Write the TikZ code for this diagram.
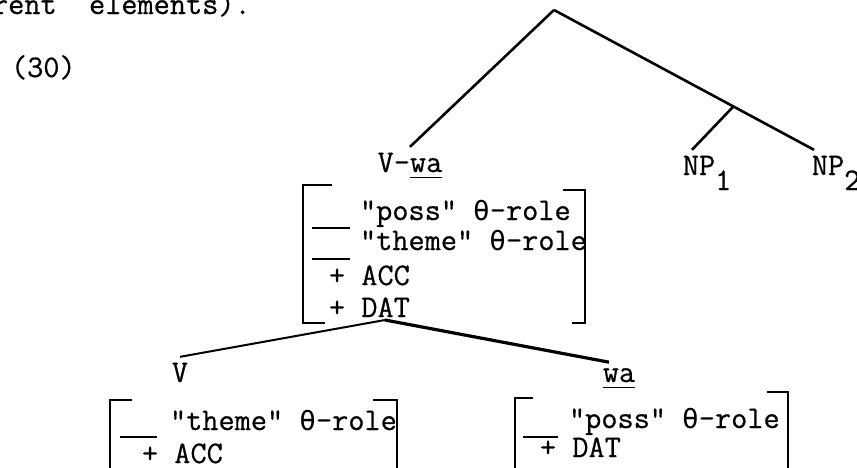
\documentclass[tikz,border=0pt]{standalone}
\usepackage{fontspec}
\setmonofont{Latin Modern Mono}[FakeBold=0.6]
\newfontfamily\grfont{DejaVu Sans Mono}[Scale=0.88]
\usetikzlibrary{calc}
\newcommand\ulword[1]{\setbox0\hbox{#1}\rlap{\rule[-3.2pt]{\wd0}{0.9pt}}\box0}
\newcommand\thr{{\grfont θ}}
\tikzstyle{every node}=[inner sep=0pt, outer sep=0pt, font=\fontsize{15.7}{19}\selectfont\ttfamily]
\tikzstyle{txt}=[anchor=base west]
\tikzstyle{cat}=[anchor=base, outer sep=3pt]
\tikzstyle{brk}=[draw, line width=1.4pt]
\tikzstyle{blank}=[draw, line width=1pt]

\begin{document}
\begin{tikzpicture}[x=0.5pt,y=-0.5pt]
    \useasboundingbox (0,0) rectangle (857,467);
    \node[txt] (prev) at (-8,14) {rent\ \ elements).};
    \node[txt] (ex) at (11,77) {(30)};
    % upper tree
    \coordinate (root) at (554,10);
    \node[cat] (vwa) at (410,172) {V-\ulword{wa}};
    \node[cat] (np1) at (699,175) {NP\rlap{\raisebox{-7.5pt}{1}}};
    \node[cat] (np2) at (828,175) {NP\rlap{\raisebox{-7.5pt}{2}}};
    \coordinate (np) at ($(root)!0.69!([xshift=-7pt]np2.north)$);
    \path[draw,line width=1.3pt]
    (root) edge (vwa.north)
    (root) edge ([xshift=-7pt]np2.north)
    (np) edge ([xshift=-3.5pt]np1.north)
    ;
    % features of V-wa
    \node[txt] (poss1) at (360,220) {"poss" \thr-role};
    \node[txt] (theme1) at (360,250) {"theme" \thr-role};
    \node[txt] (acc1) at (329,285) {+ ACC};
    \node[txt] (dat1) at (329,317) {+ DAT};
    \draw[blank] (312,228) -- (350,228);
    \draw[blank] (312,259) -- (350,259);
    \draw[brk] (332,185) -- (303,185) -- (303,323) -- (325,323);
    \draw[brk] (563,190) -- (585,190) -- (585,323) -- (572,323);
    % lower tree
    \coordinate (dm) at (385,320);
    \node[cat] (v) at (180,382) {V};
    \node[cat] (wa) at (619,382) {\ulword{wa}};
    \draw[line width=1pt] (dm) -- (v.north);
    \draw[line width=1.6pt] (dm) -- ([xshift=-5pt]wa.north);
    % features of V
    \node[txt] (theme2) at (170,430) {"theme" \thr-role};
    \node[txt] (acc2) at (142,463) {+ ACC};
    \draw[blank] (120,437) -- (157,437);
    \draw[brk] (132,400) -- (110,400) -- (110,475);
    \draw[brk] (373,400) -- (397,400) -- (397,475);
    % features of wa
    \node[txt] (poss2) at (569,428) {"poss" \thr-role};
    \node[txt] (dat2) at (540,457) {+ DAT};
    \draw[blank] (523,437) -- (558,437);
    \draw[brk] (533,398) -- (515,398) -- (515,475);
    \draw[brk] (767,392) -- (788,392) -- (788,475);
\end{tikzpicture}
\end{document}
